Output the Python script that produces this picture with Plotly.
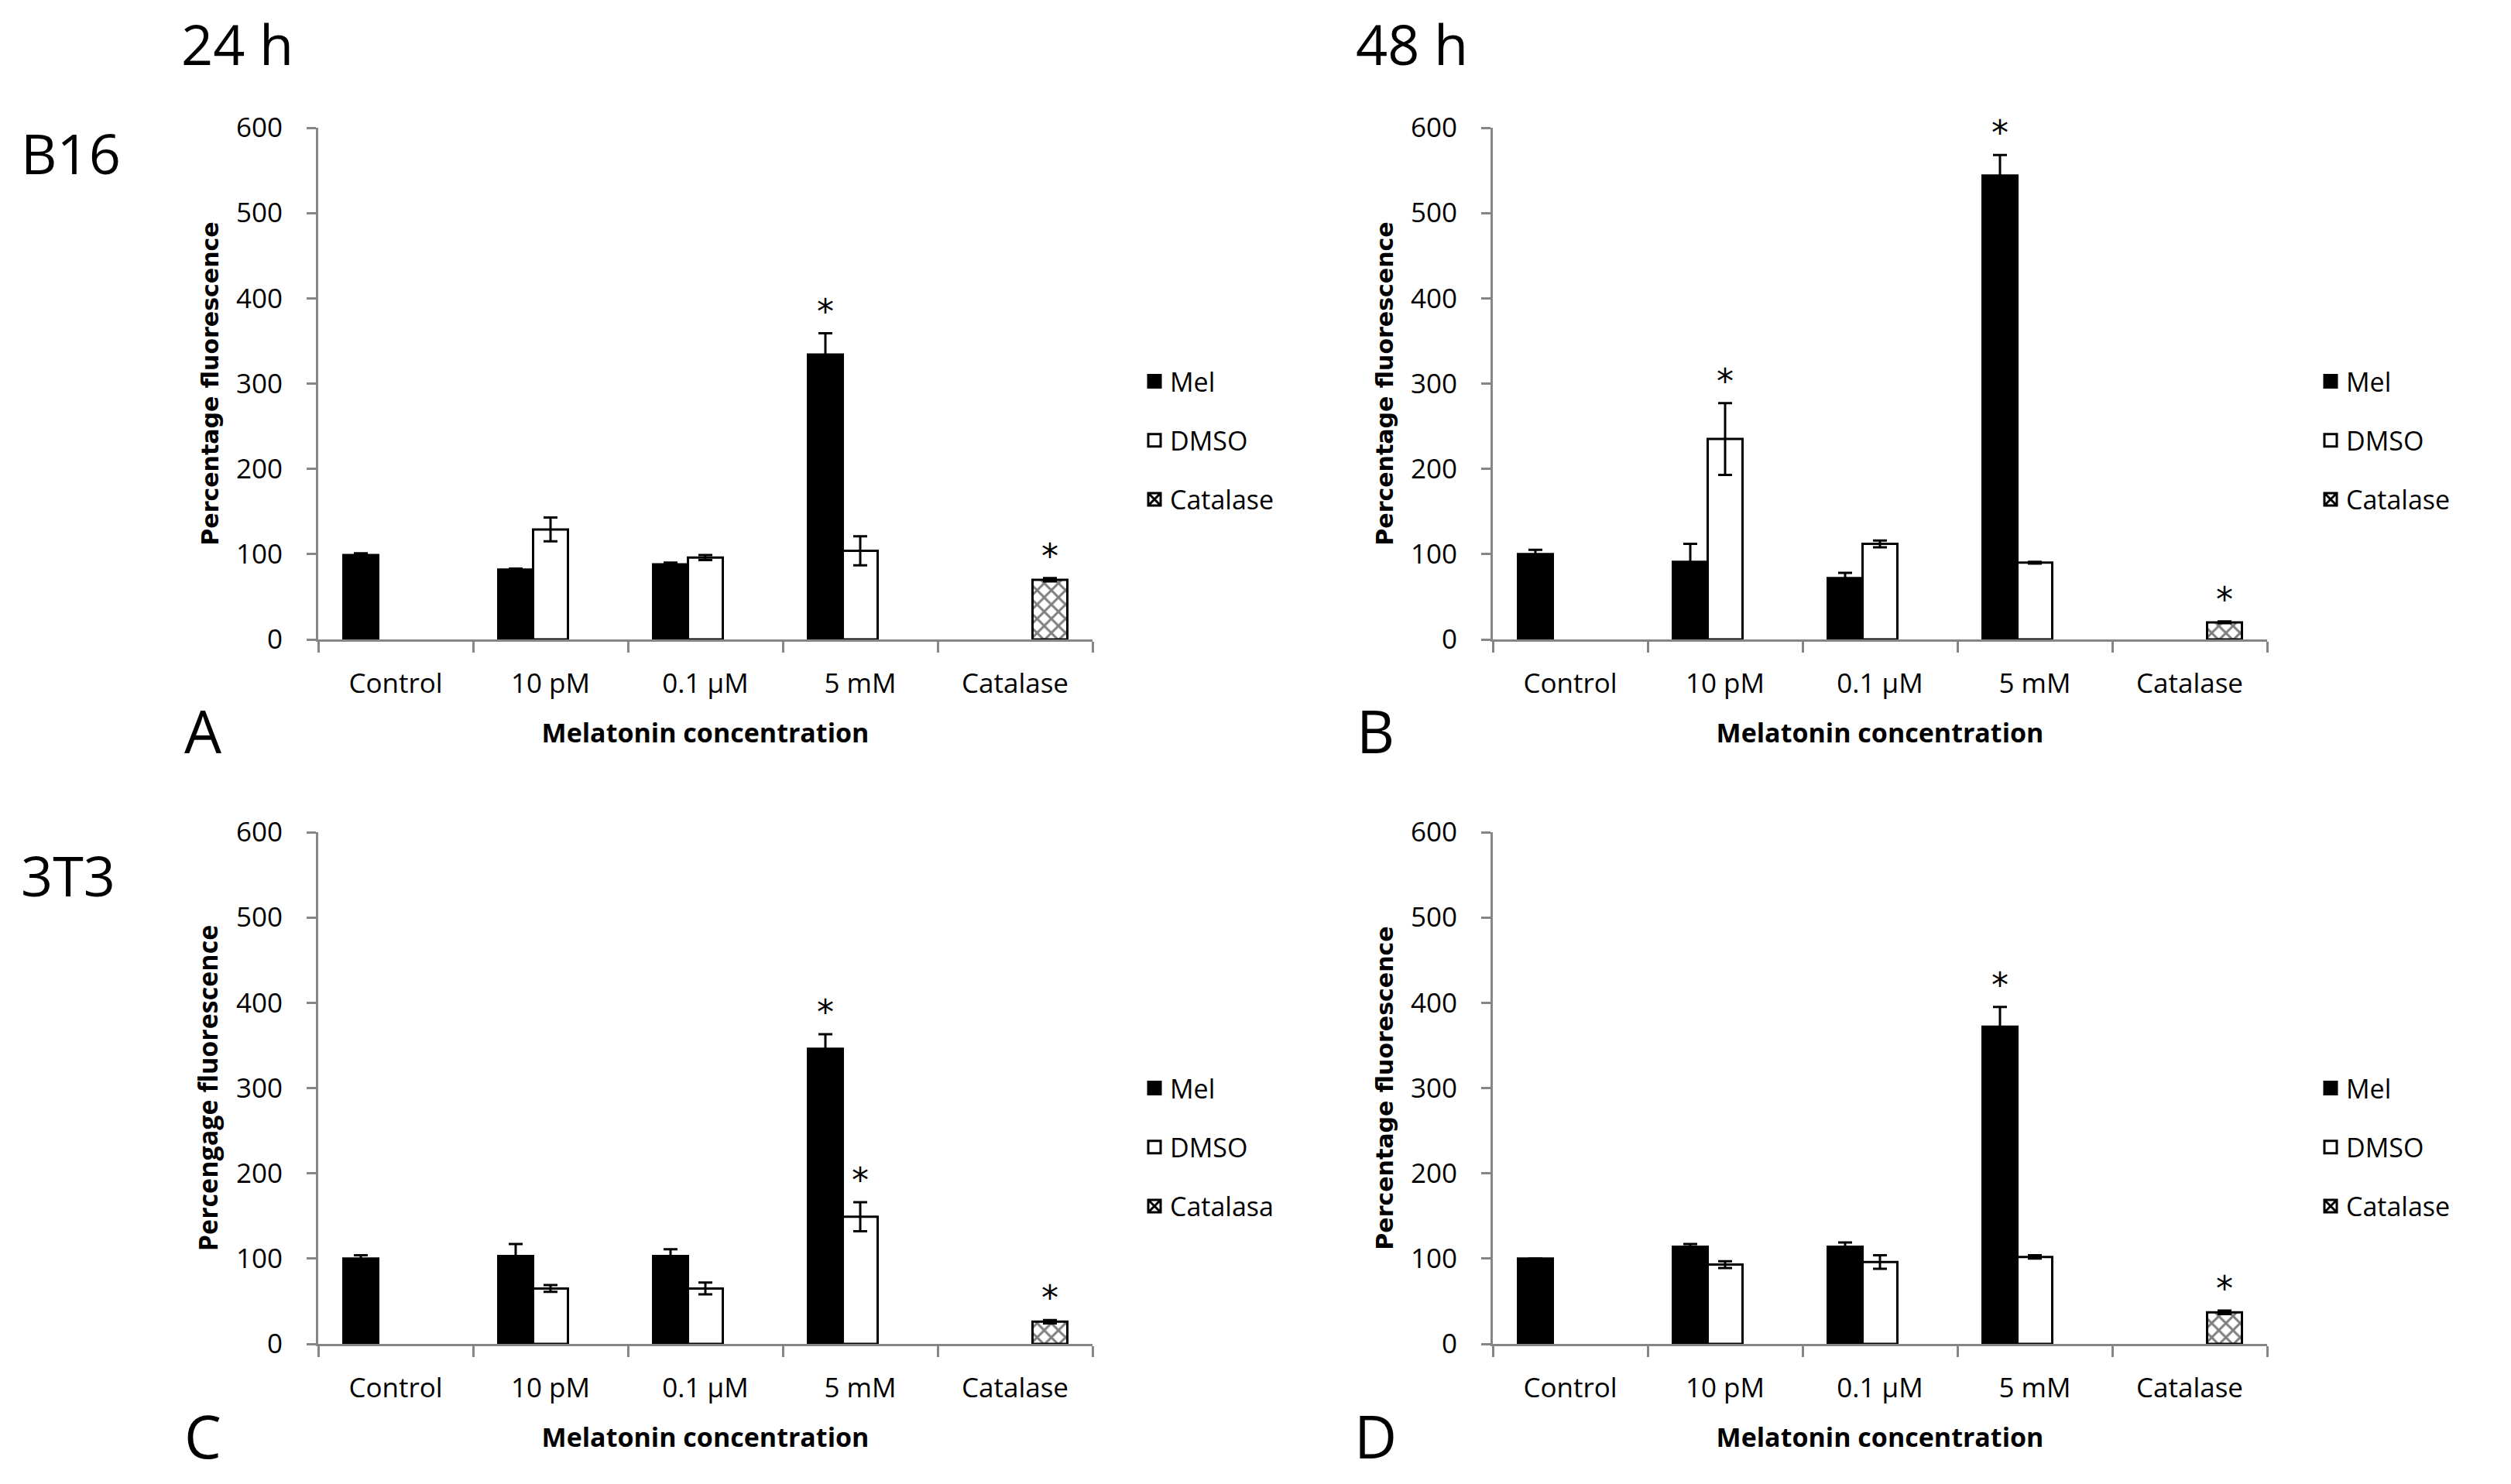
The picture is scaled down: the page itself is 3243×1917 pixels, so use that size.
import plotly.graph_objects as go

W, H = 3243, 1917

categories = ["Control", "10 pM", "0.1 µM", "5 mM", "Catalase"]

# ---- Panel A: B16, 24 h ----
a_mel = [99, 82, 88, 334, None]
a_mel_err = [2, 1, 2, 25, None]
a_dmso = [None, 129, 96, 104, None]
a_dmso_err = [None, 14, 3, 17, None]
a_cat = [None, None, None, None, 70]
a_cat_err = [None, None, None, None, 2]
a_mel_star = [0, 0, 0, 1, 0]
a_dmso_star = [0, 0, 0, 0, 0]
a_cat_star = [0, 0, 0, 0, 1]

# ---- Panel B: B16, 48 h ----
b_mel = [100, 91, 72, 544, None]
b_mel_err = [5, 21, 6, 24, None]
b_dmso = [None, 235, 112, 90, None]
b_dmso_err = [None, 42, 4, 1, None]
b_cat = [None, None, None, None, 20]
b_cat_err = [None, None, None, None, 1]
b_mel_star = [0, 0, 0, 1, 0]
b_dmso_star = [0, 1, 0, 0, 0]
b_cat_star = [0, 0, 0, 0, 1]

# ---- Panel C: 3T3, 24 h ----
c_mel = [100, 103, 103, 346, None]
c_mel_err = [4, 14, 8, 17, None]
c_dmso = [None, 65, 65, 149, None]
c_dmso_err = [None, 4, 7, 17, None]
c_cat = [None, None, None, None, 26]
c_cat_err = [None, None, None, None, 2]
c_mel_star = [0, 0, 0, 1, 0]
c_dmso_star = [0, 0, 0, 1, 0]
c_cat_star = [0, 0, 0, 0, 1]

# ---- Panel D: 3T3, 48 h ----
d_mel = [100, 114, 114, 372, None]
d_mel_err = [0, 3, 5, 23, None]
d_dmso = [None, 93, 96, 102, None]
d_dmso_err = [None, 4, 8, 2, None]
d_cat = [None, None, None, None, 37]
d_cat_err = [None, None, None, None, 2]
d_mel_star = [0, 0, 0, 1, 0]
d_dmso_star = [0, 0, 0, 0, 0]
d_cat_star = [0, 0, 0, 0, 1]

legend_names_ab = ["Mel", "DMSO", "Catalase"]
legend_names_c = ["Mel", "DMSO", "Catalasa"]
y_title_std = "Percentage fluorescence"
y_title_c = "Percengage fluorescence"
x_title = "Melatonin concentration"

OPEN = "Open Sans"
DEJA = "DejaVu Sans"
GREY = "#868686"

panels = [
    dict(key="", leg="legend", names=legend_names_ab, ytitle=y_title_std, yfont=DEJA, ysize=30,
         series=[(a_mel, a_mel_err, a_mel_star), (a_dmso, a_dmso_err, a_dmso_star), (a_cat, a_cat_err, a_cat_star)]),
    dict(key="2", leg="legend2", names=legend_names_ab, ytitle=y_title_std, yfont=DEJA, ysize=30,
         series=[(b_mel, b_mel_err, b_mel_star), (b_dmso, b_dmso_err, b_dmso_star), (b_cat, b_cat_err, b_cat_star)]),
    dict(key="3", leg="legend3", names=legend_names_c, ytitle=y_title_c, yfont=OPEN, ysize=34,
         series=[(c_mel, c_mel_err, c_mel_star), (c_dmso, c_dmso_err, c_dmso_star), (c_cat, c_cat_err, c_cat_star)]),
    dict(key="4", leg="legend4", names=legend_names_ab, ytitle=y_title_std, yfont=DEJA, ysize=30,
         series=[(d_mel, d_mel_err, d_mel_star), (d_dmso, d_dmso_err, d_dmso_star), (d_cat, d_cat_err, d_cat_star)]),
]

bar_styles = [
    dict(marker=dict(color="black", line=dict(color="black", width=3))),
    dict(marker=dict(color="white", line=dict(color="black", width=3))),
    dict(marker=dict(color="white", line=dict(color="black", width=3),
                     pattern=dict(shape="x", fgcolor="black", bgcolor="white", size=13, solidity=0.4))),
]
# legend swatches (larger square symbols than the fixed bar swatch)
legend_markers = [
    dict(symbol="square", size=16, color="black", line=dict(color="black", width=3)),
    dict(symbol="square", size=16, color="white", line=dict(color="black", width=3)),
    dict(symbol="square-x", size=16, color="white", line=dict(color="black", width=3)),
]
groups = ["mel", "dmso", "cat"]

fig = go.Figure()

for p in panels:
    xa = "x" + p["key"]
    ya = "y" + p["key"]
    for i, (vals, errs, stars) in enumerate(p["series"]):
        fig.add_trace(go.Bar(
            x=categories, y=vals, name=p["names"][i],
            xaxis=xa, yaxis=ya, offsetgroup=groups[i],
            showlegend=False,
            error_y=dict(type="data", array=errs, color="black", thickness=3, width=9, visible=True),
            hoverinfo="skip",
            **bar_styles[i],
        ))
    for i, (vals, errs, stars) in enumerate(p["series"]):
        tops = [(v + (e or 0)) if (s and v is not None) else None for v, e, s in zip(vals, errs, stars)]
        texts = ["*" if s else "" for s in stars]
        fig.add_trace(go.Bar(
            x=categories, y=tops, text=texts, textposition="outside",
            textfont=dict(family=DEJA, size=44, color="black"),
            constraintext="none", cliponaxis=False,
            marker=dict(color="rgba(0,0,0,0)", line=dict(width=0)),
            xaxis=xa, yaxis=ya, offsetgroup=groups[i],
            showlegend=False, hoverinfo="skip",
        ))
    for i in range(3):
        fig.add_trace(go.Scatter(
            x=[None], y=[None], mode="markers", name=p["names"][i],
            marker=legend_markers[i], xaxis=xa, yaxis=ya,
            legend=p["leg"], legendgroup=p["leg"] + groups[i],
            showlegend=True, hoverinfo="skip",
        ))

DX, DY = -5, -7
xdom_left = [(408 + DX) / W, (1408 + DX) / W]
xdom_right = [(1925 + DX) / W, (2925 + DX) / W]
ydom_top = [1 - (825 + DY) / H, 1 - (164 + DY) / H]
ydom_bot = [1 - (1735 + DY) / H, 1 - (1074 + DY) / H]
doms = {"": (xdom_left, ydom_top), "2": (xdom_right, ydom_top),
        "3": (xdom_left, ydom_bot), "4": (xdom_right, ydom_bot)}

layout = dict(
    width=W, height=H,
    margin=dict(l=0, r=0, t=0, b=0),
    paper_bgcolor="white", plot_bgcolor="white",
    barmode="group", bargap=0.325, bargroupgap=0,
    showlegend=True,
)

for p in panels:
    k = p["key"]
    xd, yd = doms[k]
    layout["xaxis" + k] = dict(
        domain=xd, anchor="y" + k, type="category",
        categoryorder="array", categoryarray=categories, range=[-0.5, 4.5],
        showline=True, linecolor=GREY, linewidth=3,
        ticks="outside", tickson="boundaries", ticklen=14, tickwidth=3, tickcolor=GREY,
        tickfont=dict(family=OPEN, size=35, color="black"),
        ticklabelstandoff=24,
        showgrid=False, zeroline=False, automargin=False, fixedrange=True,
        title=dict(text=x_title, font=dict(family=OPEN, size=34, color="black", weight="bold"), standoff=32),
    )
    layout["yaxis" + k] = dict(
        domain=yd, anchor="x" + k, range=[0, 600], dtick=100, tick0=0,
        showline=True, linecolor=GREY, linewidth=3,
        ticks="outside", ticklen=12, tickwidth=3, tickcolor=GREY,
        tickfont=dict(family=OPEN, size=35, color="black"),
        ticklabelstandoff=24,
        showgrid=False, zeroline=False, automargin=False, fixedrange=True,
        title=dict(text=p["ytitle"], font=dict(family=p["yfont"], size=p["ysize"], color="black", weight="bold"), standoff=14),
    )

leg_common = dict(xanchor="left", yanchor="middle", font=dict(family=OPEN, size=34, color="black"),
                  tracegroupgap=29, traceorder="grouped", bgcolor="rgba(0,0,0,0)", borderwidth=0)
layout["legend"] = dict(x=1463 / W, y=1 - 561 / H, **leg_common)
layout["legend2"] = dict(x=2982 / W, y=1 - 561 / H, **leg_common)
layout["legend3"] = dict(x=1463 / W, y=1 - 1474 / H, **leg_common)
layout["legend4"] = dict(x=2982 / W, y=1 - 1474 / H, **leg_common)

big = dict(family=OPEN, size=72, color="black")
letters = dict(family=OPEN, size=76, color="black")
ann = [
    dict(text="24 h", x=224 / W, y=1 - 48 / H, font=big, xanchor="left", yanchor="middle"),
    dict(text="48 h", x=1741 / W, y=1 - 48 / H, font=big, xanchor="left", yanchor="middle"),
    dict(text="B16", x=17 / W, y=1 - 189 / H, font=big, xanchor="left", yanchor="middle"),
    dict(text="3T3", x=17 / W, y=1 - 1122 / H, font=big, xanchor="left", yanchor="middle"),
    dict(text="A", x=254 / W, y=1 - 935 / H, font=letters, xanchor="center", yanchor="middle"),
    dict(text="B", x=1768 / W, y=1 - 935 / H, font=letters, xanchor="center", yanchor="middle"),
    dict(text="C", x=254 / W, y=1 - 1846 / H, font=letters, xanchor="center", yanchor="middle"),
    dict(text="D", x=1768 / W, y=1 - 1846 / H, font=letters, xanchor="center", yanchor="middle"),
]
for a in ann:
    a.update(xref="paper", yref="paper", showarrow=False)
layout["annotations"] = ann

fig.update_layout(**layout)
fig.write_html("out.html")
